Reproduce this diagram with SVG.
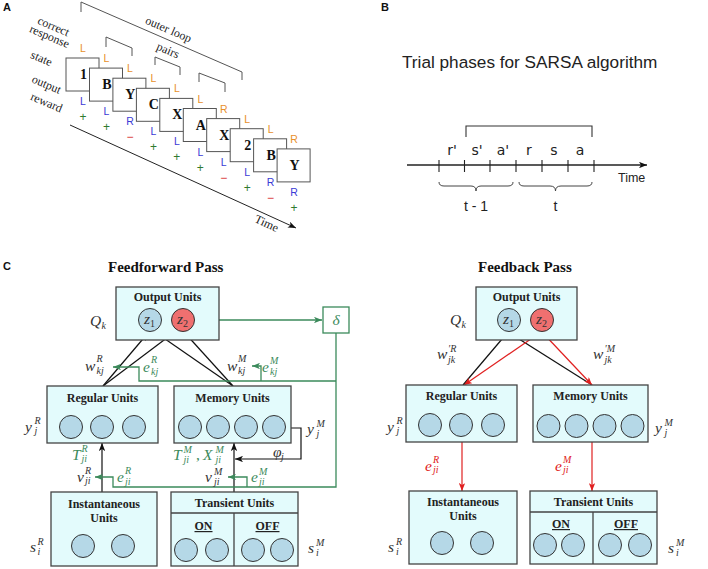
<svg xmlns="http://www.w3.org/2000/svg" width="708" height="569" viewBox="0 0 708 569">
<defs>
<style>
svg{font-family:"Liberation Serif","Times New Roman",serif}
.pl{font-family:"Liberation Sans",Arial,sans-serif;font-weight:bold;font-size:11px;fill:#111}
.card{fill:#fff;stroke:#555;stroke-width:1}
.ct{font-weight:bold;font-size:14px;text-anchor:middle;fill:#111}
.lr{font-family:"Liberation Sans",Arial,sans-serif;font-size:10.5px;text-anchor:middle}
.or{fill:#e8902c}.bl{fill:#3b3bd6}.gp{fill:#2f7a2f}.rm{fill:#d93030}
.rw{font-family:"Liberation Sans",Arial,sans-serif;font-size:12px;text-anchor:middle}
.rl{font-size:12px;fill:#222;text-anchor:middle}
.br{fill:none;stroke:#555;stroke-width:1}
.box{fill:#e3fbfc;stroke:#444;stroke-width:1.3}
.u{fill:#b5d8e7;stroke:#333;stroke-width:1}
.uz2{fill:#ef7070;stroke:#333;stroke-width:1}
.bt{font-weight:bold;font-size:12px;text-anchor:middle;fill:#222}
.ttl{font-weight:bold;font-size:15px;fill:#111}
.m{font-style:italic;font-size:15.5px;fill:#333}
.s{font-size:10px}
.up{font-style:normal}
.gr{fill:#3b8a5b}
.rd{fill:#e02020}
.ln{fill:none;stroke:#111;stroke-width:1.2}
.gl{fill:none;stroke:#3b8a5b;stroke-width:1.3}
.rl2{fill:none;stroke:#e02020;stroke-width:1.2}
.sans{font-family:"Liberation Sans",Arial,sans-serif;fill:#222}
.ph{font-family:"DejaVu Sans",sans-serif;font-size:14px;text-anchor:middle;fill:#222}
.ul{text-decoration:underline}
</style>
<marker id="ak" viewBox="0 0 10 8" refX="10" refY="4" markerWidth="8" markerHeight="6.4" markerUnits="userSpaceOnUse" orient="auto"><path d="M0,0 L10,4 L0,8 L2.5,4 z" fill="#111"/></marker>
<marker id="ag" viewBox="0 0 10 8" refX="10" refY="4" markerWidth="8" markerHeight="6.4" markerUnits="userSpaceOnUse" orient="auto"><path d="M0,0 L10,4 L0,8 L2.5,4 z" fill="#3b8a5b"/></marker>
<marker id="ar" viewBox="0 0 10 8" refX="10" refY="4" markerWidth="8" markerHeight="6.4" markerUnits="userSpaceOnUse" orient="auto"><path d="M0,0 L10,4 L0,8 L2.5,4 z" fill="#e02020"/></marker>
</defs>
<rect width="708" height="569" fill="#fff"/>

<!-- Panel A -->
<g id="panelA">
<text class="pl" x="3" y="11">A</text>
<path class="br" d="M81,12 L81,2 L242,72 L242,80"/>
<text class="rl" transform="translate(167,33) rotate(23.5)">outer loop</text>
<path class="br" d="M106,47 L106,37 L132,48 L132,56"/>
<path class="br" d="M155,65 L155,57 L180,67 L180,75"/>
<path class="br" d="M199,82 L199,73 L225,83 L225,92"/>
<text class="rl" transform="translate(166.5,54) rotate(23.5)">pairs</text>
<text class="rl" transform="translate(52,30) rotate(23)">correct</text>
<text class="rl" transform="translate(48,40) rotate(23)">response</text>
<text class="rl" transform="translate(40,62) rotate(23)">state</text>
<text class="rl" transform="translate(45,88) rotate(23)">output</text>
<text class="rl" transform="translate(45,106) rotate(23)">reward</text>

<g id="card1"><rect class="card" x="66" y="58" width="33" height="33"/><text class="ct" x="83.5" y="79">1</text></g>
<g id="card2"><rect class="card" x="89.5" y="68.1" width="33" height="33"/><text class="ct" x="107" y="89.1">B</text></g>
<g id="card3"><rect class="card" x="112.9" y="78.2" width="33" height="33"/><text class="ct" x="130.4" y="99.2">Y</text></g>
<g id="card4"><rect class="card" x="136.4" y="88.3" width="33" height="33"/><text class="ct" x="153.9" y="109.3">C</text></g>
<g id="card5"><rect class="card" x="159.8" y="98.4" width="33" height="33"/><text class="ct" x="177.3" y="119.4">X</text></g>
<g id="card6"><rect class="card" x="183.3" y="108.5" width="33" height="33"/><text class="ct" x="200.8" y="129.5">A</text></g>
<g id="card7"><rect class="card" x="206.7" y="118.6" width="33" height="33"/><text class="ct" x="224.2" y="139.6">X</text></g>
<g id="card8"><rect class="card" x="230.2" y="128.7" width="33" height="33"/><text class="ct" x="247.7" y="149.7">2</text></g>
<g id="card9"><rect class="card" x="253.6" y="138.8" width="33" height="33"/><text class="ct" x="271.1" y="159.8">B</text></g>
<g id="card10"><rect class="card" x="277.1" y="148.9" width="33" height="33"/><text class="ct" x="294.6" y="169.9">Y</text></g>

<g class="lr or">
<text x="83" y="52">L</text><text x="106.5" y="62.1">L</text><text x="130" y="72.2">L</text><text x="153.4" y="82.3">L</text><text x="176.8" y="92.4">L</text><text x="200.3" y="102.5">L</text><text x="223.7" y="112.6">R</text><text x="247.2" y="122.7">L</text><text x="270.6" y="132.8">L</text><text x="294.1" y="142.9">R</text>
</g>
<g class="lr bl">
<text x="83" y="105">L</text><text x="106.5" y="115.1">L</text><text x="130" y="125.2">R</text><text x="153.4" y="135.3">L</text><text x="176.8" y="145.4">L</text><text x="200.3" y="155.5">L</text><text x="223.7" y="165.6">L</text><text x="247.2" y="175.7">L</text><text x="270.6" y="185.8">R</text><text x="294.1" y="195.9">R</text>
</g>
<g class="rw">
<text class="gp" x="83" y="121">+</text><text class="gp" x="106.5" y="131.1">+</text><text class="rm" x="130" y="141.2">−</text><text class="gp" x="153.4" y="151.3">+</text><text class="gp" x="176.8" y="161.4">+</text><text class="gp" x="200.3" y="171.5">+</text><text class="rm" x="223.7" y="181.6">−</text><text class="gp" x="247.2" y="191.7">+</text><text class="rm" x="270.6" y="201.8">−</text><text class="gp" x="294.1" y="211.9">+</text>
</g>
<path d="M70,125 L296,228" fill="none" stroke="#222" stroke-width="1" marker-end="url(#ak)"/>
<text class="rl" transform="translate(265,227) rotate(24.5)">Time</text>
</g>

<!-- Panel B -->
<g id="panelB">
<text class="pl" x="381" y="11">B</text>
<text class="sans" x="402" y="68" font-size="17.2">Trial phases for SARSA algorithm</text>
<path d="M466,137 L466,126 L592,126 L592,137" fill="none" stroke="#333" stroke-width="1.1"/>
<g class="ph"><text x="452" y="155">r'</text><text x="477" y="155">s'</text><text x="503" y="155">a'</text><text x="529" y="155">r</text><text x="554" y="155">s</text><text x="580" y="155">a</text></g>
<path d="M407,165 L647,165" fill="none" stroke="#222" stroke-width="1.3" marker-end="url(#ak)"/>
<path d="M439,160 V172 M464.5,160 V172 M490,160 V172 M516,160 V172 M542,160 V172 M568,160 V172 M594,160 V172" fill="none" stroke="#222" stroke-width="1.1"/>
<text class="sans" x="618" y="182" font-size="12.5">Time</text>
<path d="M439,182 Q439,186 444,186 L471,186 Q476,186 476,191 Q476,186 481,186 L508,186 Q513,186 513,182" fill="none" stroke="#444" stroke-width="1"/>
<path d="M519,182 Q519,186 524,186 L550,186 Q555.5,186 555.5,191 Q555.5,186 561,186 L587,186 Q592,186 592,182" fill="none" stroke="#444" stroke-width="1"/>
<text class="sans" x="476" y="211" font-size="14" text-anchor="middle">t - 1</text>
<text class="sans" x="555.5" y="211" font-size="14" text-anchor="middle">t</text>
</g>

<!-- Panel C -->
<text class="pl" x="3" y="270">C</text>
<text class="ttl" x="108" y="272">Feedforward Pass</text>
<text class="ttl" x="478" y="272">Feedback Pass</text>

<g id="connectors">
<path class="ln" d="M103,386 L148,333" marker-end="url(#ak)"/>
<path class="ln" d="M103,386 L176,331" marker-end="url(#ak)"/>
<path class="ln" d="M233,386 L155,332" marker-end="url(#ak)"/>
<path class="ln" d="M233,386 L184,332" marker-end="url(#ak)"/>
<path class="ln" d="M102,492 L102,443" marker-end="url(#ak)"/>
<path class="ln" d="M234,492 L234,443" marker-end="url(#ak)"/>
<path class="ln" d="M291,428 L301,428 L301,459 L235,459" marker-end="url(#ak)"/>
<path class="gl" d="M195,320 L322,320" marker-end="url(#ag)"/>
<path class="gl" d="M336,333 L336,487 L113,487 L113,477 L95,477" marker-end="url(#ag)"/>
<path class="gl" d="M247,487 L247,477 L228,477" marker-end="url(#ag)"/>
<path class="gl" d="M336,381 L139,381 L139,367 L113,367" marker-end="url(#ag)"/>
<path class="gl" d="M261,381 L261,366 L252,366" marker-end="url(#ag)"/>
<path class="ln" d="M508,332 L463,385"/>
<path class="ln" d="M508,332 L592,385"/>
<path class="rl2" d="M541,332 L464,385" marker-end="url(#ar)"/>
<path class="rl2" d="M542,332 L592,385" marker-end="url(#ar)"/>
<path class="rl2" d="M462,442 L462,491" marker-end="url(#ar)"/>
<path class="rl2" d="M592,442 L592,491" marker-end="url(#ar)"/>
</g>

<g id="ff-output">
<rect class="box" x="116" y="287" width="103" height="53"/>
<text class="bt" x="167.5" y="301">Output Units</text>
<circle class="u" cx="150" cy="320" r="11.5"/>
<circle class="uz2" cx="183" cy="320" r="11.5"/>
<text class="m" x="144" y="324" font-size="13.5">z<tspan class="s up" dy="3">1</tspan></text>
<text class="m" x="177" y="324" font-size="13.5">z<tspan class="s up" dy="3">2</tspan></text>
</g>
<g id="ff-delta">
<rect x="323" y="307" width="26" height="26" fill="#fff" stroke="#3b8a5b" stroke-width="1.3"/>
<text class="m gr" x="336" y="325" text-anchor="middle">δ</text>
</g>
<g id="ff-regular">
<rect class="box" x="47" y="386" width="111" height="57"/>
<text class="bt" x="102.5" y="402">Regular Units</text>
<circle class="u" cx="71" cy="427" r="11.5"/><circle class="u" cx="102" cy="427" r="11.5"/><circle class="u" cx="134" cy="427" r="11.5"/>
</g>
<g id="ff-memory">
<rect class="box" x="174" y="386" width="117" height="57"/>
<text class="bt" x="232.5" y="402">Memory Units</text>
<circle class="u" cx="190" cy="427" r="11.5"/><circle class="u" cx="218" cy="427" r="11.5"/><circle class="u" cx="246" cy="427" r="11.5"/><circle class="u" cx="274" cy="427" r="11.5"/>
</g>
<g id="ff-instantaneous">
<rect class="box" x="51" y="492" width="106" height="74"/>
<text class="bt" x="104" y="507.5">Instantaneous</text>
<text class="bt" x="104" y="521.5">Units</text>
<circle class="u" cx="83" cy="546" r="11.5"/><circle class="u" cx="123" cy="546" r="11.5"/>
</g>
<g id="ff-transient">
<rect class="box" x="171" y="492" width="127" height="74"/>
<path d="M171,513 H298 M234,513 V566" fill="none" stroke="#444" stroke-width="1.3"/>
<text class="bt" x="234.5" y="507">Transient Units</text>
<text class="bt ul" x="203.5" y="530" font-size="10.5">ON</text>
<text class="bt ul" x="267.5" y="530" font-size="10.5">OFF</text>
<circle class="u" cx="186" cy="550" r="11.5"/><circle class="u" cx="217" cy="550" r="11.5"/><circle class="u" cx="253" cy="550" r="11.5"/><circle class="u" cx="282" cy="550" r="11.5"/>
</g>

<g id="fb-output">
<rect class="box" x="476" y="287" width="101" height="53"/>
<text class="bt" x="526.5" y="301">Output Units</text>
<circle class="u" cx="509" cy="320" r="11.5"/>
<circle class="uz2" cx="542" cy="320" r="11.5"/>
<text class="m" x="503" y="324" font-size="13.5">z<tspan class="s up" dy="3">1</tspan></text>
<text class="m" x="536" y="324" font-size="13.5">z<tspan class="s up" dy="3">2</tspan></text>
</g>
<g id="fb-regular">
<rect class="box" x="406" y="385" width="111" height="57"/>
<text class="bt" x="461.5" y="400">Regular Units</text>
<circle class="u" cx="430" cy="425" r="11.5"/><circle class="u" cx="461" cy="425" r="11.5"/><circle class="u" cx="493" cy="425" r="11.5"/>
</g>
<g id="fb-memory">
<rect class="box" x="533" y="385" width="115" height="57"/>
<text class="bt" x="590.5" y="400">Memory Units</text>
<circle class="u" cx="548.5" cy="426" r="11.5"/><circle class="u" cx="576.5" cy="426" r="11.5"/><circle class="u" cx="604.5" cy="426" r="11.5"/><circle class="u" cx="632.5" cy="426" r="11.5"/>
</g>
<g id="fb-instantaneous">
<rect class="box" x="409" y="491" width="108" height="73"/>
<text class="bt" x="463" y="506">Instantaneous</text>
<text class="bt" x="463" y="520">Units</text>
<circle class="u" cx="442" cy="543" r="11.5"/><circle class="u" cx="482" cy="543" r="11.5"/>
</g>
<g id="fb-transient">
<rect class="box" x="530" y="491" width="127" height="73"/>
<path d="M530,512 H657 M593,512 V564" fill="none" stroke="#444" stroke-width="1.3"/>
<text class="bt" x="593.5" y="506">Transient Units</text>
<text class="bt ul" x="561" y="528" font-size="10.5">ON</text>
<text class="bt ul" x="626" y="528" font-size="10.5">OFF</text>
<circle class="u" cx="545" cy="545" r="11.5"/><circle class="u" cx="573" cy="545" r="11.5"/><circle class="u" cx="610" cy="545" r="11.5"/><circle class="u" cx="640" cy="545" r="11.5"/>
</g>

<g id="labels">
<text class="m" x="90" y="326" font-size="16">Q<tspan class="s" x="101.5" y="329">k</tspan></text>
<text class="m" x="85" y="371">w<tspan class="s" x="96.5" y="362">R</tspan><tspan class="s" x="96.5" y="374">kj</tspan></text>
<text class="m gr" x="143" y="372">e<tspan class="s" x="151" y="363">R</tspan><tspan class="s" x="151" y="375">kj</tspan></text>
<text class="m" x="227" y="371">w<tspan class="s" x="238" y="362">M</tspan><tspan class="s" x="238" y="374">kj</tspan></text>
<text class="m gr" x="262" y="372">e<tspan class="s" x="270" y="364">M</tspan><tspan class="s" x="270" y="375">kj</tspan></text>
<text class="m" x="25" y="432">y<tspan class="s" x="34.5" y="424">R</tspan><tspan class="s" x="34.5" y="434">j</tspan></text>
<text class="m" x="307" y="434">y<tspan class="s" x="316.5" y="427">M</tspan><tspan class="s" x="316.5" y="437">j</tspan></text>
<text class="m" x="273" y="457" font-size="12.5">φ<tspan class="s" x="281" y="460" font-size="8.5">j</tspan></text>
<text class="m gr" x="72" y="460">T<tspan class="s" x="81.5" y="452">R</tspan><tspan class="s" x="81.5" y="462">ji</tspan></text>
<text class="m" x="77" y="482">v<tspan class="s" x="85" y="474">R</tspan><tspan class="s" x="85" y="484">ji</tspan></text>
<text class="m gr" x="117" y="482">e<tspan class="s" x="125" y="474">R</tspan><tspan class="s" x="125" y="485">ji</tspan></text>
<text class="m gr" x="173" y="460">T<tspan class="s" x="183.5" y="453">M</tspan><tspan class="s" x="183.5" y="463">ji</tspan><tspan class="up" x="196" y="460">,</tspan><tspan x="203" y="460">X</tspan><tspan class="s" x="215.5" y="453">M</tspan><tspan class="s" x="215.5" y="463">ji</tspan></text>
<text class="m" x="205" y="482">v<tspan class="s" x="214" y="475">M</tspan><tspan class="s" x="214" y="485">ji</tspan></text>
<text class="m gr" x="251" y="482">e<tspan class="s" x="259" y="475">M</tspan><tspan class="s" x="259" y="485">ji</tspan></text>
<text class="m" x="30" y="552">s<tspan class="s" x="37.5" y="545">R</tspan><tspan class="s" x="37.5" y="555">i</tspan></text>
<text class="m" x="308" y="553">s<tspan class="s" x="316" y="546">M</tspan><tspan class="s" x="316" y="556">i</tspan></text>

<text class="m" x="450" y="325" font-size="16">Q<tspan class="s" x="461.5" y="328">k</tspan></text>
<text class="m" x="437" y="359">w<tspan class="s" x="448" y="352">′R</tspan><tspan class="s" x="448" y="363">jk</tspan></text>
<text class="m" x="593" y="359">w<tspan class="s" x="604.5" y="352">′M</tspan><tspan class="s" x="604.5" y="363">jk</tspan></text>
<text class="m" x="387" y="432">y<tspan class="s" x="396.5" y="424">R</tspan><tspan class="s" x="396.5" y="434">j</tspan></text>
<text class="m" x="655" y="433">y<tspan class="s" x="664.5" y="426">M</tspan><tspan class="s" x="664.5" y="436">j</tspan></text>
<text class="m rd" x="425" y="471">e<tspan class="s" x="433" y="463">R</tspan><tspan class="s" x="433" y="473">ji</tspan></text>
<text class="m rd" x="555" y="471">e<tspan class="s" x="563" y="463">M</tspan><tspan class="s" x="563" y="473">ji</tspan></text>
<text class="m" x="388" y="552">s<tspan class="s" x="396" y="545">R</tspan><tspan class="s" x="396" y="555">i</tspan></text>
<text class="m" x="668" y="553">s<tspan class="s" x="676" y="546">M</tspan><tspan class="s" x="676" y="556">i</tspan></text>
</g>
</svg>
